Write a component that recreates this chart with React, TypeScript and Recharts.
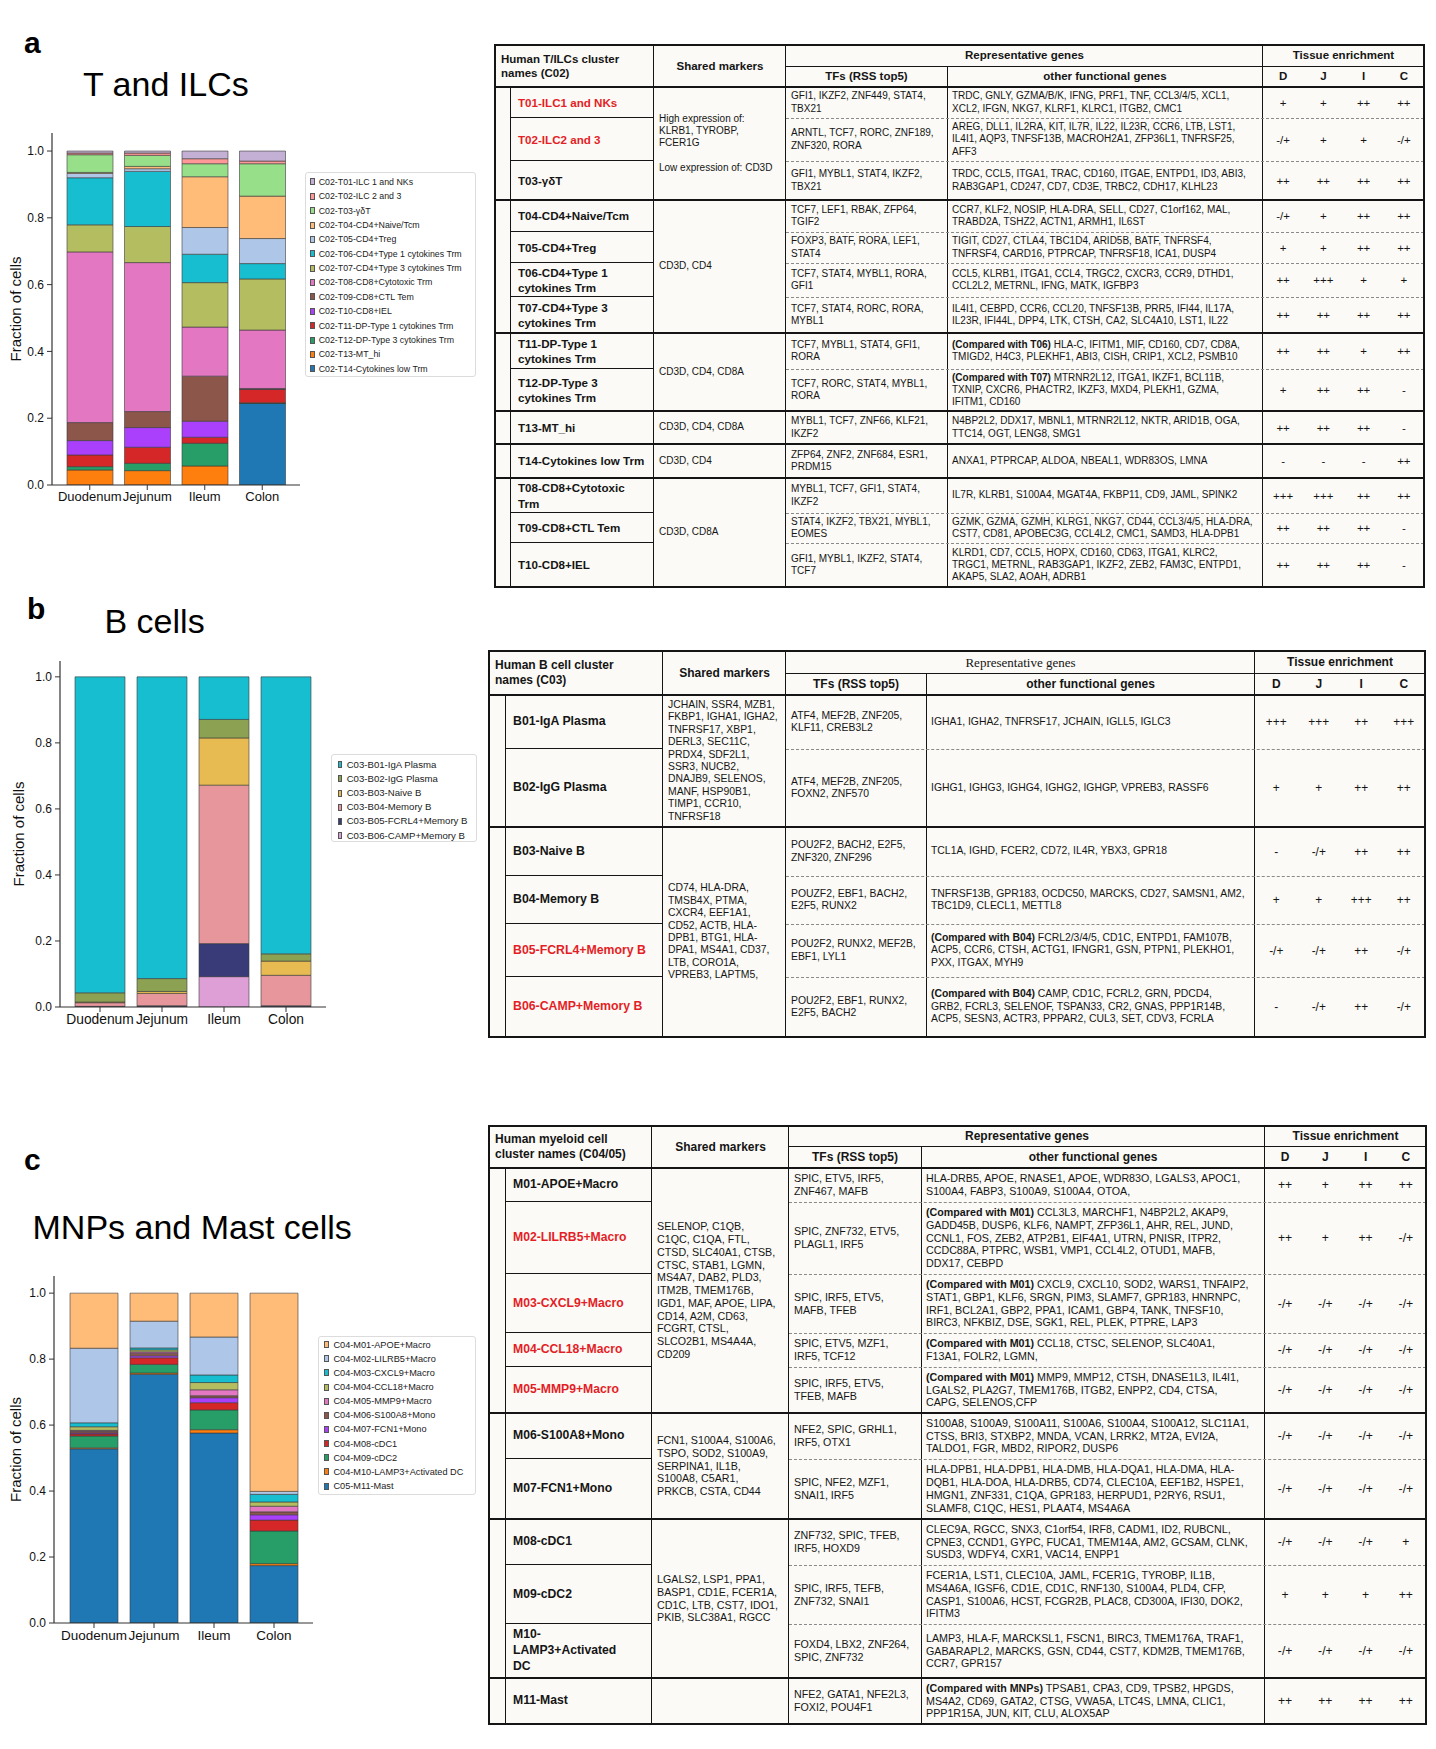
import React from 'react';
import { BarChart, Bar, XAxis, YAxis } from 'recharts';

const FONT = "'Liberation Sans', Arial, Helvetica, sans-serif";
const tissues = ['Duodenum', 'Jejunum', 'Ileum', 'Colon'];
const yTicks = [0, 0.2, 0.4, 0.6, 0.8, 1.0];

// ---- panel a: T and ILCs (legend order, top of stack first) ----
const tClusters = [
  'C02-T01-ILC 1 and NKs', 'C02-T02-ILC 2 and 3', 'C02-T03-γδT', 'C02-T04-CD4+Naive/Tcm',
  'C02-T05-CD4+Treg', 'C02-T06-CD4+Type 1 cytokines Trm', 'C02-T07-CD4+Type 3 cytokines Trm',
  'C02-T08-CD8+Cytotoxic Trm', 'C02-T09-CD8+CTL Tem', 'C02-T10-CD8+IEL',
  'C02-T11-DP-Type 1 cytokines Trm', 'C02-T12-DP-Type 3 cytokines Trm', 'C02-T13-MT_hi',
  'C02-T14-Cytokines low Trm',
];
const tColors = ['#c5b0d5', '#ff9896', '#98df8a', '#ffbb78', '#aec7e8', '#17becf', '#b5bd61',
  '#e377c2', '#8c564b', '#aa40fc', '#d62728', '#279e68', '#ff7f0e', '#1f77b4'];
const tDuodenum = [0.006, 0.005, 0.053, 0.003, 0.013, 0.141, 0.081, 0.511, 0.054, 0.043, 0.035, 0.010, 0.045, 0.0];
const tJejunum = [0.006, 0.007, 0.033, 0.007, 0.008, 0.165, 0.108, 0.446, 0.048, 0.059, 0.048, 0.022, 0.043, 0.0];
const tIleum = [0.023, 0.015, 0.039, 0.152, 0.080, 0.085, 0.133, 0.147, 0.135, 0.048, 0.018, 0.068, 0.057, 0.0];
const tColon = [0.030, 0.008, 0.097, 0.127, 0.075, 0.046, 0.153, 0.175, 0.002, 0.001, 0.040, 0.001, 0.001, 0.244];

// ---- panel b: B cells ----
const bClusters = ['C03-B01-IgA Plasma', 'C03-B02-IgG Plasma', 'C03-B03-Naive B', 'C03-B04-Memory B',
  'C03-B05-FCRL4+Memory B', 'C03-B06-CAMP+Memory B'];
const bColors = ['#17becf', '#8ca252', '#e7ba52', '#e7969c', '#393b79', '#de9ed6'];
const bDuodenum = [0.957, 0.028, 0.002, 0.011, 0.001, 0.001];
const bJejunum = [0.914, 0.039, 0.006, 0.037, 0.003, 0.001];
const bIleum = [0.129, 0.056, 0.143, 0.480, 0.100, 0.092];
const bColon = [0.839, 0.022, 0.043, 0.092, 0.003, 0.001];

// ---- panel c: MNPs and Mast cells ----
const mClusters = ['C04-M01-APOE+Macro', 'C04-M02-LILRB5+Macro', 'C04-M03-CXCL9+Macro', 'C04-M04-CCL18+Macro',
  'C04-M05-MMP9+Macro', 'C04-M06-S100A8+Mono', 'C04-M07-FCN1+Mono', 'C04-M08-cDC1', 'C04-M09-cDC2',
  'C04-M10-LAMP3+Activated DC', 'C05-M11-Mast'];
const mColors = ['#ffbb78', '#aec7e8', '#17becf', '#b5bd61', '#e377c2', '#8c564b', '#aa40fc', '#d62728',
  '#279e68', '#ff7f0e', '#1f77b4'];
const mDuodenum = [0.167, 0.226, 0.012, 0.011, 0.003, 0.005, 0.003, 0.006, 0.036, 0.003, 0.528];
const mJejunum = [0.085, 0.081, 0.006, 0.006, 0.004, 0.008, 0.006, 0.020, 0.026, 0.004, 0.754];
const mIleum = [0.133, 0.115, 0.023, 0.022, 0.018, 0.006, 0.015, 0.022, 0.060, 0.010, 0.576];
const mColon = [0.601, 0.009, 0.023, 0.013, 0.017, 0.009, 0.016, 0.033, 0.099, 0.006, 0.174];

const toRows = (clusters: string[], perTissue: number[][]) =>
  tissues.map((tissue, i) => {
    const row: Record<string, any> = { tissue };
    clusters.forEach((_, j) => { row['s' + j] = perTissue[i][j]; });
    return row;
  });

const tData = toRows(tClusters, [tDuodenum, tJejunum, tIleum, tColon]);
const bData = toRows(bClusters, [bDuodenum, bJejunum, bIleum, bColon]);
const mData = toRows(mClusters, [mDuodenum, mJejunum, mIleum, mColon]);

const AX = '#333';

function StackedChart({ top, width, height, plot, data, clusters, colors, yMax, barSize, pad, labelX, xFont }: any) {
  const yw = 40;
  const margin = {
    top: plot.top - top,
    right: width - plot.right,
    left: plot.left - yw,
    bottom: height - (plot.bottom - top) - 30,
  };
  const order = clusters.map((_: string, j: number) => j).reverse();
  return (
    <div style={{ position: 'absolute', left: 0, top }}>
      <BarChart width={width} height={height} data={data} margin={margin}>
        <XAxis dataKey="tissue" height={30} padding={pad} interval={0} tickSize={5} tickMargin={2}
          axisLine={{ stroke: AX, strokeWidth: 1.2 }} tickLine={{ stroke: AX }}
          tick={{ fontSize: xFont, fill: '#111', fontFamily: FONT }} />
        <XAxis xAxisId="top" orientation="top" dataKey="tissue" height={0} padding={pad}
          tick={false} tickLine={false} axisLine={{ stroke: AX, strokeWidth: 1.2 }} />
        <YAxis width={yw} domain={[0, yMax]} ticks={yTicks} tickSize={5} tickMargin={3}
          tickFormatter={(v: number) => v.toFixed(1)} allowDataOverflow
          axisLine={{ stroke: AX, strokeWidth: 1.2 }} tickLine={{ stroke: AX }}
          tick={{ fontSize: 12, fill: '#111', fontFamily: FONT }}
          label={{
            value: 'Fraction of cells',
            content: (p: any) => {
              const vb = p.viewBox;
              const cx = labelX;
              const cy = vb.y + vb.height / 2;
              return (
                <text x={cx} y={cy} transform={`rotate(-90, ${cx}, ${cy})`} textAnchor="middle"
                  dominantBaseline="central" fontSize={15} fontFamily={FONT} fill="#111">
                  Fraction of cells
                </text>
              );
            },
          }} />
        <YAxis yAxisId="right" orientation="right" width={0} domain={[0, yMax]} tick={false}
          tickLine={false} axisLine={{ stroke: AX, strokeWidth: 1.2 }} />
        {order.map((j: number) => (
          <Bar key={j} dataKey={'s' + j} name={clusters[j]} stackId="a" fill={colors[j]}
            stroke="#3a3a3a" strokeWidth={0.6} barSize={barSize} isAnimationActive={false} />
        ))}
      </BarChart>
    </div>
  );
}

function ClusterLegend({ clusters, colors, box, fontSize, rowH, padTop, swX, swW, txtX }: any) {
  return (
    <div style={{
      position: 'absolute', left: box.left, top: box.top, width: box.width, height: box.height,
      boxSizing: 'border-box', border: '1px solid #dcdcdc', borderRadius: 3, background: '#fff',
      paddingTop: padTop,
    }}>
      {clusters.map((c: string, j: number) => (
        <div key={c} style={{ position: 'relative', height: rowH }}>
          <div style={{
            position: 'absolute', left: swX, top: rowH / 2 - 3.5, width: swW, height: 7,
            background: colors[j], boxSizing: 'border-box', border: '0.5px solid #555',
          }} />
          <div style={{
            position: 'absolute', left: txtX, top: 0, height: rowH, lineHeight: rowH + 'px',
            fontSize, color: '#222', whiteSpace: 'nowrap', fontFamily: FONT,
          }}>{c}</div>
        </div>
      ))}
    </div>
  );
}

// ---------------- tables ----------------
type TRow = { name: string[]; red?: boolean; tf: string[]; other: string[]; cmp?: string; tis: string[]; h: number };
type TGroup = { rows: number; text: string[] };

const tRows: TRow[] = [
  { name: ['T01-ILC1 and NKs'], red: true, h: 31, tf: ['GFI1, IKZF2, ZNF449, STAT4,', 'TBX21'],
    other: ['TRDC, GNLY, GZMA/B/K, IFNG, PRF1, TNF, CCL3/4/5, XCL1,', 'XCL2, IFGN, NKG7, KLRF1, KLRC1, ITGB2, CMC1'], tis: ['+', '+', '++', '++'] },
  { name: ['T02-ILC2 and 3'], red: true, h: 43, tf: ['ARNTL, TCF7, RORC, ZNF189,', 'ZNF320, RORA'],
    other: ['AREG, DLL1, IL2RA, KIT, IL7R, IL22, IL23R, CCR6, LTB, LST1,', 'IL4I1, AQP3, TNFSF13B, MACROH2A1, ZFP36L1, TNFRSF25,', 'AFF3'], tis: ['-/+', '+', '+', '-/+'] },
  { name: ['T03-γδT'], h: 39, tf: ['GFI1, MYBL1, STAT4, IKZF2,', 'TBX21'],
    other: ['TRDC, CCL5, ITGA1, TRAC, CD160,  ITGAE, ENTPD1, ID3, ABI3,', 'RAB3GAP1, CD247, CD7, CD3E, TRBC2, CDH17, KLHL23'], tis: ['++', '++', '++', '++'] },
  { name: ['T04-CD4+Naive/Tcm'], h: 32, tf: ['TCF7, LEF1, RBAK, ZFP64,', 'TGIF2'],
    other: ['CCR7, KLF2, NOSIP, HLA-DRA, SELL, CD27, C1orf162, MAL,', 'TRABD2A, TSHZ2, ACTN1, ARMH1, IL6ST'], tis: ['-/+', '+', '++', '++'] },
  { name: ['T05-CD4+Treg'], h: 31, tf: ['FOXP3, BATF, RORA, LEF1,', 'STAT4'],
    other: ['TIGIT, CD27, CTLA4, TBC1D4, ARID5B, BATF, TNFRSF4,', 'TNFRSF4, CARD16, PTPRCAP, TNFRSF18, ICA1, DUSP4'], tis: ['+', '+', '++', '++'] },
  { name: ['T06-CD4+Type 1', 'cytokines Trm'], h: 34, tf: ['TCF7, STAT4, MYBL1, RORA,', 'GFI1'],
    other: ['CCL5, KLRB1, ITGA1, CCL4, TRGC2, CXCR3, CCR9, DTHD1,', 'CCL2L2, METRNL, IFNG, MATK, IGFBP3'], tis: ['++', '+++', '+', '+'] },
  { name: ['T07-CD4+Type 3', 'cytokines Trm'], h: 36, tf: ['TCF7, STAT4, RORC, RORA,', 'MYBL1'],
    other: ['IL4I1, CEBPD, CCR6, CCL20, TNFSF13B, PRR5, IFI44, IL17A,', 'IL23R, IFI44L, DPP4, LTK, CTSH, CA2, SLC4A10, LST1, IL22'], tis: ['++', '++', '++', '++'] },
  { name: ['T11-DP-Type 1', 'cytokines Trm'], h: 36, tf: ['TCF7, MYBL1, STAT4, GFI1,', 'RORA'], cmp: '(Compared with T06)',
    other: [' HLA-C, IFITM1, MIF, CD160, CD7, CD8A,', 'TMIGD2, H4C3, PLEKHF1, ABI3, CISH, CRIP1, XCL2, PSMB10'], tis: ['++', '++', '+', '++'] },
  { name: ['T12-DP-Type 3', 'cytokines Trm'], h: 42, tf: ['TCF7, RORC, STAT4, MYBL1,', 'RORA'], cmp: '(Compared with T07)',
    other: [' MTRNR2L12, ITGA1, IKZF1, BCL11B,', 'TXNIP, CXCR6, PHACTR2, IKZF3, MXD4, PLEKH1, GZMA,', 'IFITM1, CD160'], tis: ['+', '++', '++', '-'] },
  { name: ['T13-MT_hi'], h: 33, tf: ['MYBL1, TCF7, ZNF66, KLF21,', 'IKZF2'],
    other: ['N4BP2L2, DDX17, MBNL1, MTRNR2L12, NKTR, ARID1B, OGA,', 'TTC14, OGT, LENG8, SMG1'], tis: ['++', '++', '++', '-'] },
  { name: ['T14-Cytokines low Trm'], h: 34, tf: ['ZFP64, ZNF2, ZNF684, ESR1,', 'PRDM15'],
    other: ['ANXA1, PTPRCAP, ALDOA, NBEAL1, WDR83OS, LMNA'], tis: ['-', '-', '-', '++'] },
  { name: ['T08-CD8+Cytotoxic', 'Trm'], h: 35, tf: ['MYBL1, TCF7, GFI1, STAT4,', 'IKZF2'],
    other: ['IL7R, KLRB1, S100A4, MGAT4A, FKBP11, CD9, JAML, SPINK2'], tis: ['+++', '+++', '++', '++'] },
  { name: ['T09-CD8+CTL Tem'], h: 30, tf: ['STAT4, IKZF2, TBX21, MYBL1,', 'EOMES'],
    other: ['GZMK, GZMA, GZMH, KLRG1, NKG7, CD44, CCL3/4/5, HLA-DRA,', 'CST7, CD81, APOBEC3G, CCL4L2, CMC1, SAMD3, HLA-DPB1'], tis: ['++', '++', '++', '-'] },
  { name: ['T10-CD8+IEL'], h: 44, tf: ['GFI1, MYBL1, IKZF2, STAT4,', 'TCF7'],
    other: ['KLRD1, CD7, CCL5, HOPX, CD160, CD63, ITGA1, KLRC2,', 'TRGC1, METRNL, RAB3GAP1, IKZF2, ZEB2, FAM3C, ENTPD1,', 'AKAP5, SLA2, AOAH, ADRB1'], tis: ['++', '++', '++', '-'] },
];
const tGroups: TGroup[] = [
  { rows: 3, text: ['High expression of:', 'KLRB1, TYROBP,', 'FCER1G', '\u00a0', 'Low expression of: CD3D'] },
  { rows: 4, text: ['CD3D, CD4'] },
  { rows: 2, text: ['CD3D, CD4, CD8A'] },
  { rows: 1, text: ['CD3D, CD4, CD8A'] },
  { rows: 1, text: ['CD3D, CD4'] },
  { rows: 3, text: ['CD3D, CD8A'] },
];

const bRows: TRow[] = [
  { name: ['B01-IgA Plasma'], h: 54, tf: ['ATF4, MEF2B, ZNF205,', 'KLF11, CREB3L2'],
    other: ['IGHA1, IGHA2, TNFRSF17, JCHAIN, IGLL5, IGLC3'], tis: ['+++', '+++', '++', '+++'] },
  { name: ['B02-IgG Plasma'], h: 78, tf: ['ATF4, MEF2B, ZNF205,', 'FOXN2, ZNF570'],
    other: ['IGHG1, IGHG3, IGHG4, IGHG2, IGHGP, VPREB3, RASSF6'], tis: ['+', '+', '++', '++'] },
  { name: ['B03-Naive B'], h: 49, tf: ['POU2F2, BACH2, E2F5,', 'ZNF320, ZNF296'],
    other: ['TCL1A, IGHD, FCER2, CD72, IL4R, YBX3, GPR18'], tis: ['-', '-/+', '++', '++'] },
  { name: ['B04-Memory B'], h: 48, tf: ['POUZF2, EBF1, BACH2,', 'E2F5, RUNX2'],
    other: ['TNFRSF13B, GPR183, OCDC50, MARCKS, CD27, SAMSN1, AM2,', 'TBC1D9, CLECL1, METTL8'], tis: ['+', '+', '+++', '++'] },
  { name: ['B05-FCRL4+Memory B'], red: true, h: 53, tf: ['POU2F2, RUNX2, MEF2B,', 'EBF1, LYL1'], cmp: '(Compared with B04)',
    other: [' FCRL2/3/4/5, CD1C,  ENTPD1, FAM107B,', 'ACP5, CCR6, CTSH, ACTG1, IFNGR1, GSN, PTPN1, PLEKHO1,', 'PXX, ITGAX, MYH9'], tis: ['-/+', '-/+', '++', '-/+'] },
  { name: ['B06-CAMP+Memory B'], red: true, h: 60, tf: ['POU2F2, EBF1, RUNX2,', 'E2F5, BACH2'], cmp: '(Compared with B04)',
    other: [' CAMP, CD1C, FCRL2, GRN, PDCD4,', 'GRB2, FCRL3, SELENOF, TSPAN33, CR2, GNAS, PPP1R14B,', 'ACP5, SESN3, ACTR3, PPPAR2, CUL3, SET, CDV3, FCRLA'], tis: ['-', '-/+', '++', '-/+'] },
];
const bGroups: TGroup[] = [
  { rows: 2, text: ['JCHAIN, SSR4, MZB1,', 'FKBP1, IGHA1, IGHA2,', 'TNFRSF17, XBP1,', 'DERL3, SEC11C,', 'PRDX4, SDF2L1,', 'SSR3, NUCB2,', 'DNAJB9, SELENOS,', 'MANF, HSP90B1,', 'TIMP1, CCR10,', 'TNFRSF18'] },
  { rows: 4, text: ['CD74, HLA-DRA,', 'TMSB4X, PTMA,', 'CXCR4, EEF1A1,', 'CD52, ACTB, HLA-', 'DPB1, BTG1, HLA-', 'DPA1, MS4A1, CD37,', 'LTB, CORO1A,', 'VPREB3, LAPTM5,'] },
];

const mRows: TRow[] = [
  { name: ['M01-APOE+Macro'], h: 34, tf: ['SPIC, ETV5, IRF5,', 'ZNF467, MAFB'],
    other: ['HLA-DRB5, APOE, RNASE1, APOE, WDR83O, LGALS3, APOC1,', 'S100A4, FABP3, S100A9, S100A4, OTOA,'], tis: ['++', '+', '++', '++'] },
  { name: ['M02-LILRB5+Macro'], red: true, h: 72, tf: ['SPIC, ZNF732, ETV5,', 'PLAGL1, IRF5'], cmp: '(Compared with M01)',
    other: [' CCL3L3, MARCHF1, N4BP2L2, AKAP9,', 'GADD45B, DUSP6, KLF6, NAMPT, ZFP36L1, AHR, REL, JUND,', 'CCNL1, FOS, ZEB2, ATP2B1, EIF4A1, UTRN, PNISR, ITPR2,', 'CCDC88A, PTPRC, WSB1, VMP1, CCL4L2, OTUD1, MAFB,', 'DDX17, CEBPD'], tis: ['++', '+', '++', '-/+'] },
  { name: ['M03-CXCL9+Macro'], red: true, h: 59, tf: ['SPIC, IRF5, ETV5,', 'MAFB, TFEB'], cmp: '(Compared with M01)',
    other: [' CXCL9, CXCL10, SOD2, WARS1, TNFAIP2,', 'STAT1, GBP1, KLF6, SRGN, PIM3, SLAMF7, GPR183, HNRNPC,', 'IRF1, BCL2A1, GBP2, PPA1, ICAM1, GBP4, TANK, TNFSF10,', 'BIRC3, NFKBIZ, DSE, SGK1, REL, PLEK, PTPRE, LAP3'], tis: ['-/+', '-/+', '-/+', '-/+'] },
  { name: ['M04-CCL18+Macro'], red: true, h: 34, tf: ['SPIC, ETV5, MZF1,', 'IRF5, TCF12'], cmp: '(Compared with M01)',
    other: [' CCL18, CTSC, SELENOP, SLC40A1,', 'F13A1, FOLR2, LGMN,'], tis: ['-/+', '-/+', '-/+', '-/+'] },
  { name: ['M05-MMP9+Macro'], red: true, h: 46, tf: ['SPIC, IRF5, ETV5,', 'TFEB, MAFB'], cmp: '(Compared with M01)',
    other: [' MMP9, MMP12, CTSH, DNASE1L3, IL4I1,', 'LGALS2, PLA2G7, TMEM176B, ITGB2, ENPP2, CD4, CTSA,', 'CAPG, SELENOS,CFP'], tis: ['-/+', '-/+', '-/+', '-/+'] },
  { name: ['M06-S100A8+Mono'], h: 46, tf: ['NFE2, SPIC, GRHL1,', 'IRF5, OTX1'],
    other: ['S100A8, S100A9, S100A11, S100A6, S100A4, S100A12, SLC11A1,', 'CTSS, BRI3, STXBP2, MNDA, VCAN, LRRK2, MT2A, EVI2A,', 'TALDO1, FGR, MBD2, RIPOR2, DUSP6'], tis: ['-/+', '-/+', '-/+', '-/+'] },
  { name: ['M07-FCN1+Mono'], h: 60, tf: ['SPIC, NFE2, MZF1,', 'SNAI1, IRF5'],
    other: ['HLA-DPB1, HLA-DPB1, HLA-DMB, HLA-DQA1, HLA-DMA, HLA-', 'DQB1, HLA-DOA, HLA-DRB5, CD74, CLEC10A, EEF1B2, HSPE1,', 'HMGN1, ZNF331, C1QA, GPR183, HERPUD1, P2RY6, RSU1,', 'SLAMF8, C1QC, HES1, PLAAT4, MS4A6A'], tis: ['-/+', '-/+', '-/+', '-/+'] },
  { name: ['M08-cDC1'], h: 46, tf: ['ZNF732, SPIC, TFEB,', 'IRF5, HOXD9'],
    other: ['CLEC9A, RGCC, SNX3, C1orf54, IRF8, CADM1, ID2, RUBCNL,', 'CPNE3, CCND1, GYPC, FUCA1, TMEM14A, AM2, GCSAM, CLNK,', 'SUSD3, WDFY4, CXR1, VAC14, ENPP1'], tis: ['-/+', '-/+', '-/+', '+'] },
  { name: ['M09-cDC2'], h: 59, tf: ['SPIC, IRF5, TEFB,', 'ZNF732, SNAI1'],
    other: ['FCER1A, LST1, CLEC10A, JAML, FCER1G, TYROBP, IL1B,', 'MS4A6A, IGSF6, CD1E, CD1C, RNF130, S100A4, PLD4, CFP,', 'CASP1, S100A6, HCST, FCGR2B, PLAC8, CD300A, IFI30, DOK2,', 'IFITM3'], tis: ['+', '+', '+', '++'] },
  { name: ['M10-', 'LAMP3+Activated', 'DC'], h: 54, tf: ['FOXD4, LBX2, ZNF264,', 'SPIC, ZNF732'],
    other: ['LAMP3, HLA-F, MARCKSL1, FSCN1, BIRC3, TMEM176A, TRAF1,', 'GABARAPL2, MARCKS, GSN, CD44, CST7, KDM2B, TMEM176B,', 'CCR7, GPR157'], tis: ['-/+', '-/+', '-/+', '-/+'] },
  { name: ['M11-Mast'], h: 46, tf: ['NFE2, GATA1, NFE2L3,', 'FOXI2, POU4F1'], cmp: '(Compared with MNPs)',
    other: [' TPSAB1, CPA3, CD9, TPSB2, HPGDS,', 'MS4A2, CD69, GATA2, CTSG, VWA5A, LTC4S, LMNA, CLIC1,', 'PPP1R15A, JUN, KIT, CLU, ALOX5AP'], tis: ['++', '++', '++', '++'] },
];
const mGroups: TGroup[] = [
  { rows: 5, text: ['SELENOP, C1QB,', 'C1QC, C1QA, FTL,', 'CTSD, SLC40A1, CTSB,', 'CTSC, STAB1, LGMN,', 'MS4A7, DAB2, PLD3,', 'ITM2B, TMEM176B,', 'IGD1, MAF, APOE, LIPA,', 'CD14, A2M, CD63,', 'FCGRT, CTSL,', 'SLCO2B1, MS4A4A,', 'CD209'] },
  { rows: 2, text: ['FCN1, S100A4, S100A6,', 'TSPO, SOD2, S100A9,', 'SERPINA1, IL1B,', 'S100A8, C5AR1,', 'PRKCB, CSTA, CD44'] },
  { rows: 3, text: ['LGALS2, LSP1, PPA1,', 'BASP1, CD1E, FCER1A,', 'CD1C, LTB, CST7, IDO1,', 'PKIB, SLC38A1, RGCC'] },
  { rows: 1, text: [''] },
];

const INK = '#151515';
const RED = '#e41e26';

function GeneTable({ xs, ys, rows, groups, title, fs, lh, nfs, hfs, repSerif }: any) {
  const [x0, xStr, xName, xSh, xTf, xOth, x1] = xs;
  const [y0, yMid, yHead] = ys;
  const bottoms: number[] = [];
  let acc = yHead;
  rows.forEach((r: TRow) => { acc += r.h; bottoms.push(acc); });
  const y1 = acc;
  const top = (i: number) => (i === 0 ? yHead : bottoms[i - 1]);
  const ends = new Set<number>();
  const spans: any[] = [];
  let gi = 0;
  groups.forEach((g: TGroup) => { spans.push({ s: gi, e: gi + g.rows - 1, text: g.text }); gi += g.rows; ends.add(gi - 1); });

  const els: any[] = [];
  let k = 0;
  const box = (xa: number, ya: number, xb: number, yb: number, content: any, style: any = {}) =>
    els.push(
      <div key={k++} style={{
        position: 'absolute', left: xa, top: ya, width: xb - xa, height: yb - ya, display: 'flex',
        alignItems: 'center', boxSizing: 'border-box', whiteSpace: 'nowrap', overflow: 'visible', color: INK, ...style,
      }}>{content}</div>,
    );
  const lines = (arr: string[], cmp?: string) => (
    <div>{arr.map((l, i) => <div key={i}>{i === 0 && cmp ? <><b>{cmp}</b>{l}</> : l}</div>)}</div>
  );
  const hl = (xa: number, xb: number, y: number, w: number, dashed = false) =>
    els.push(<div key={k++} style={{
      position: 'absolute', left: xa, top: y - w / 2, width: xb - xa, height: 0,
      borderTop: `${w}px ${dashed ? 'dashed' : 'solid'} ${dashed ? '#8a8a8a' : INK}`,
    }} />);
  const vl = (x: number, ya: number, yb: number, w: number) =>
    els.push(<div key={k++} style={{ position: 'absolute', left: x - w / 2, top: ya, width: 0, height: yb - ya, borderLeft: `${w}px solid ${INK}` }} />);

  const head = { fontWeight: 'bold', fontSize: hfs, lineHeight: hfs * 1.25 + 'px' };
  const cent = { justifyContent: 'center', textAlign: 'center' };
  box(x0 + 6, y0, xName, yHead, lines(title), head);
  box(xName, y0, xSh, yHead, 'Shared markers', { ...head, ...cent });
  box(xSh, y0, xOth, yMid, 'Representative genes', repSerif
    ? { ...head, ...cent, fontFamily: "'Liberation Serif', 'Times New Roman', serif", fontWeight: 'normal', fontSize: hfs + 1 }
    : { ...head, ...cent });
  box(xOth, y0, x1, yMid, 'Tissue enrichment', { ...head, ...cent });
  box(xSh, yMid, xTf, yHead, 'TFs (RSS top5)', { ...head, ...cent });
  box(xTf, yMid, xOth, yHead, 'other functional genes', { ...head, ...cent });
  const q = (x1 - xOth) / 4;
  ['D', 'J', 'I', 'C'].forEach((t, i) => box(xOth + q * i, yMid, xOth + q * (i + 1), yHead, t, { ...head, ...cent }));

  const body = { fontSize: fs, lineHeight: lh + 'px' };
  rows.forEach((r: TRow, i: number) => {
    const ya = top(i);
    const yb = bottoms[i];
    box(xStr + 7, ya, xName, yb, lines(r.name),
      { fontWeight: 'bold', fontSize: nfs, lineHeight: nfs * 1.3 + 'px', color: r.red ? RED : INK });
    box(xSh + 5, ya, xTf, yb, lines(r.tf), body);
    box(xTf + 5, ya, xOth, yb, lines(r.other, r.cmp), body);
    r.tis.forEach((t, j) => box(xOth + q * j, ya, xOth + q * (j + 1), yb, t, { ...cent, fontSize: fs + 1.5 }));
  });
  spans.forEach((g: any) => box(xName + 5, top(g.s), xSh, bottoms[g.e], lines(g.text), body));

  vl(xStr, yHead, y1, 1.5);
  vl(xName, y0, y1, 1.5);
  vl(xSh, y0, y1, 1.5);
  vl(xTf, yMid, y1, 1);
  vl(xOth, y0, y1, 1.5);
  hl(xSh, x1, yMid, 1);
  hl(x0, x1, yHead, 2);
  rows.forEach((_: TRow, i: number) => {
    if (i === rows.length - 1) return;
    const y = bottoms[i];
    if (ends.has(i)) hl(x0, x1, y, 2);
    else { hl(xStr, xName, y, 1.5); hl(xSh, x1, y, 1, true); }
  });

  return (
    <>
      <div style={{
        position: 'absolute', left: x0 - 1, top: y0 - 1, width: x1 - x0 + 2, height: y1 - y0 + 2,
        boxSizing: 'border-box', border: `2px solid ${INK}`, background: '#fbfaf6',
      }} />
      {els}
      <div style={{
        position: 'absolute', left: x0 - 1, top: y0 - 1, width: x1 - x0 + 2, height: y1 - y0 + 2,
        boxSizing: 'border-box', border: `2px solid ${INK}`,
      }} />
    </>
  );
}

const letter = { position: 'absolute', fontSize: 30, fontWeight: 'bold', lineHeight: 1, color: '#000' } as const;
const heading = { position: 'absolute', fontSize: 34, lineHeight: 1, color: '#000', whiteSpace: 'nowrap' } as const;

export default function App() {
  return (
    <div style={{ position: 'absolute', left: 0, top: 0, width: 1436, height: 1749, background: '#fff', fontFamily: FONT, overflow: 'hidden' }}>
      <div style={{ ...letter, left: 24, top: 28 }}>a</div>
      <div style={{ ...heading, left: 83, top: 67.2 }}>T and ILCs</div>
      <div style={{ ...letter, left: 27, top: 593.6 }}>b</div>
      <div style={{ ...heading, left: 104.5, top: 604.2 }}>B cells</div>
      <div style={{ ...letter, left: 24, top: 1144.6 }}>c</div>
      <div style={{ ...heading, left: 32.5, top: 1210.2 }}>MNPs and Mast cells</div>

      <StackedChart top={120} width={310} height={400} plot={{ left: 52, right: 300, top: 133, bottom: 485 }}
        data={tData} clusters={tClusters} colors={tColors} yMax={1.054} barSize={46}
        pad={{ left: 9, right: 9 }} labelX={15} xFont={13} />
      <ClusterLegend clusters={tClusters} colors={tColors} box={{ left: 305, top: 172, width: 171, height: 205 }}
        fontSize={8.8} rowH={14.38} padTop={1.8} swX={4} swW={5} txtX={12.7} />

      <StackedChart top={645} width={340} height={400} plot={{ left: 60, right: 326, top: 661, bottom: 1007 }}
        data={bData} clusters={bClusters} colors={bColors} yMax={1.048} barSize={50}
        pad={{ left: 9, right: 9 }} labelX={18} xFont={13.8} />
      <ClusterLegend clusters={bClusters} colors={bColors} box={{ left: 331, top: 754, width: 146, height: 88 }}
        fontSize={9.6} rowH={14.2} padTop={2.6} swX={5.7} swW={4.5} txtX={14.7} />

      <StackedChart top={1260} width={330} height={400} plot={{ left: 54, right: 313, top: 1276, bottom: 1623 }}
        data={mData} clusters={mClusters} colors={mColors} yMax={1.052} barSize={48}
        pad={{ left: 10, right: 9 }} labelX={15} xFont={13.5} />
      <ClusterLegend clusters={mClusters} colors={mColors} box={{ left: 318, top: 1336, width: 158, height: 159 }}
        fontSize={9.2} rowH={14.17} padTop={0.5} swX={5} swW={4.5} txtX={14.4} />

      <GeneTable xs={[495, 511, 654, 786, 947, 1263, 1424]} ys={[45, 66, 87]} rows={tRows} groups={tGroups}
        title={['Human T/ILCs cluster', 'names (C02)']} fs={10} lh={12.2} nfs={11.6} hfs={11.5} />
      <GeneTable xs={[489, 506, 663, 786, 926, 1255, 1425]} ys={[651, 673, 695]} rows={bRows} groups={bGroups}
        title={['Human B cell cluster', 'names (C03)']} fs={10.4} lh={12.4} nfs={12.3} hfs={12} repSerif />
      <GeneTable xs={[489, 506, 652, 789, 921, 1265, 1426]} ys={[1126, 1146, 1168]} rows={mRows} groups={mGroups}
        title={['Human myeloid cell', 'cluster names (C04/05)']} fs={10.7} lh={12.8} nfs={12.2} hfs={12} />
    </div>
  );
}
